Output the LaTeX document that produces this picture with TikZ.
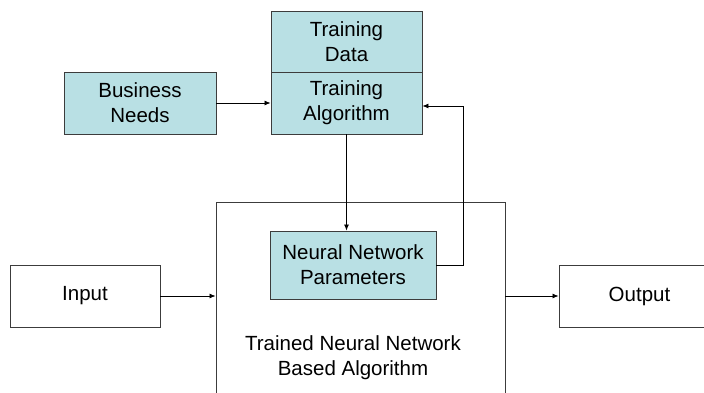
\documentclass[tikz,border=0pt]{standalone}
\usepackage{fontspec}
\setmainfont{Liberation Sans}
\usetikzlibrary{arrows.meta}
\definecolor{boxfill}{RGB}{185,224,228}
\definecolor{boxline}{RGB}{60,60,60}
\begin{document}
\begin{tikzpicture}[x=1pt,y=-1pt,
  every node/.style={font=\fontsize{20.5pt}{25pt}\selectfont, align=center, inner sep=0pt},
  bluebox/.style={draw=boxline, fill=boxfill, line width=0.9pt},
  whitebox/.style={draw=boxline, fill=white, line width=0.9pt},
  conn/.style={draw=black, line width=0.8pt, -{Latex[length=6pt,width=5pt]}}]
\path[use as bounding box, clip] (0,0) rectangle (704,392);
\node[whitebox, minimum width=289pt, minimum height=210pt] (alg) at (360.5,307) {};
\node (algtext) at (353,358) {Trained Neural Network\\Based Algorithm};
\node[bluebox, minimum width=151pt, minimum height=61pt] (td) at (346.5,41.5) {Training\\Data};
\node[bluebox, minimum width=151pt, minimum height=62pt] (ta) at (346.5,103) {Training\\Algorithm};
\node[bluebox, minimum width=152pt, minimum height=62pt] (bn) at (140,103) {Business\\Needs};
\node[bluebox, minimum width=166pt, minimum height=68pt] (nn) at (353,265) {Neural Network\\Parameters};
\node[whitebox, minimum width=150pt, minimum height=62pt] (in) at (85,296) {Input};
\node[whitebox, minimum width=161pt, minimum height=62pt, text width=153pt] (out) at (639.5,296) {Output};
\draw[conn] (bn.east) -- (ta.west);
\draw[conn] (ta.south) -- (ta.south |- nn.north);
\draw[conn] (nn.east) -- ++(27,0) |- ([yshift=-3pt]ta.east);
\draw[conn] (in.east) -- (in.east -| alg.west);
\draw[conn] (out.west -| alg.east) -- (out.west);
\end{tikzpicture}
\end{document}
